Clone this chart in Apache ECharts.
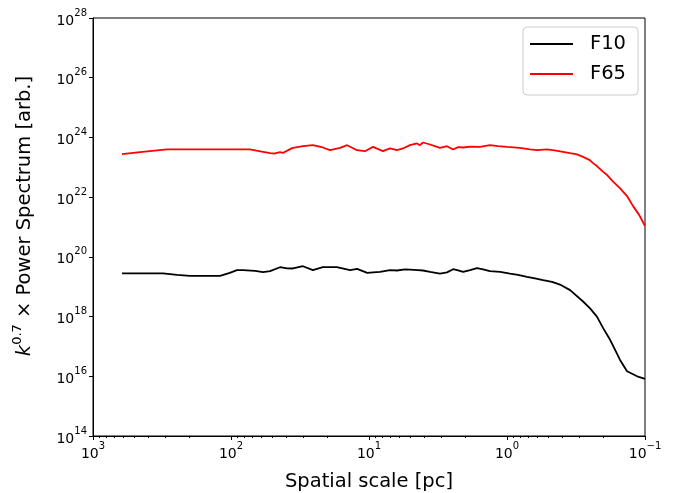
<!DOCTYPE html>
<html>
<head>
<meta charset="utf-8">
<script src="https://cdn.jsdelivr.net/npm/echarts@6/dist/echarts.min.js"></script>
<style>
html,body{margin:0;padding:0;background:#fff;}
#chart{width:676px;height:493px;}
</style>
</head>
<body>
<div id="chart"></div>
<script>
// Spatial scale [pc] and k^0.7 x Power Spectrum values
var xF65 = [616, 456, 291, 168, 102, 72.8, 58.6, 52.1, 48.0, 44.1, 42.0, 38.6, 35.6, 30.1, 25.5, 21.6, 19.2, 16.2, 14.4, 12.2, 10.7, 9.35, 7.93, 7.04, 6.27, 5.68, 5.05, 4.49, 4.27, 4.06, 3.61, 3.33, 3.06, 2.72, 2.46, 2.26, 2.08, 1.85, 1.57, 1.33, 1.16, 1.0, 0.805, 0.681, 0.607, 0.513, 0.441, 0.393, 0.349, 0.311, 0.281, 0.251, 0.238, 0.223, 0.201, 0.188, 0.171, 0.152, 0.135, 0.122, 0.110, 0.1];
var yF65 = [2.75e23, 3.2e23, 3.95e23, 4.0e23, 4.0e23, 3.95e23, 3.3e23, 2.97e23, 2.9e23, 3.2e23, 3.04e23, 3.74e23, 4.47e23, 5.09e23, 5.5e23, 4.6e23, 3.74e23, 4.47e23, 5.5e23, 3.74e23, 3.46e23, 4.82e23, 3.46e23, 4.27e23, 3.74e23, 4.27e23, 5.5e23, 6.27e23, 5.5e23, 6.76e23, 5.8e23, 5.09e23, 4.47e23, 5.09e23, 3.95e23, 4.71e23, 4.6e23, 4.9e23, 4.82e23, 5.5e23, 5.09e23, 4.82e23, 4.47e23, 4.0e23, 3.74e23, 4.0e23, 3.6e23, 3.3e23, 2.97e23, 2.69e23, 2.23e23, 1.73e23, 1.38e23, 1.1e23, 7.0e22, 5.5e22, 3.4e22, 2.0e22, 1.09e22, 5.0e21, 2.5e21, 1.08e21];

var xF10 = [616, 420, 311, 246, 198, 154, 120, 102, 90.6, 81.8, 67.0, 58.6, 52.1, 44.1, 39.3, 35.6, 30.1, 25.5, 21.6, 17.1, 13.7, 12.2, 11.2, 10.3, 9.35, 8.32, 7.04, 6.27, 5.48, 5.05, 4.42, 4.06, 3.61, 3.06, 2.72, 2.46, 2.26, 2.08, 1.85, 1.65, 1.49, 1.33, 1.12, 0.951, 0.832, 0.716, 0.627, 0.548, 0.472, 0.413, 0.349, 0.281, 0.251, 0.223, 0.201, 0.179, 0.165, 0.152, 0.135, 0.114, 0.1];
var yF10 = [2.8e19, 2.8e19, 2.8e19, 2.5e19, 2.3e19, 2.3e19, 2.3e19, 2.9e19, 3.6e19, 3.58e19, 3.39e19, 3.07e19, 3.31e19, 4.5e19, 4.1e19, 4.08e19, 4.86e19, 3.58e19, 4.5e19, 4.5e19, 3.58e19, 3.96e19, 3.39e19, 2.9e19, 3.02e19, 3.15e19, 3.6e19, 3.49e19, 3.8e19, 3.75e19, 3.6e19, 3.49e19, 3.15e19, 2.75e19, 3.02e19, 3.86e19, 3.52e19, 3.15e19, 3.6e19, 4.17e19, 3.8e19, 3.31e19, 3.15e19, 2.75e19, 2.5e19, 2.14e19, 1.9e19, 1.66e19, 1.46e19, 1.18e19, 7.7e18, 3.2e18, 1.92e18, 1.0e18, 4.1e17, 1.67e17, 7.8e16, 3.6e16, 1.48e16, 1.0e16, 8.2e15];

var seriesNames = ['F10', 'F65'];
var xMinorTicks = [2,3,4,5,6,7,8,9,20,30,40,50,60,70,80,90,200,300,400,500,600,700,800,900,0.2,0.3,0.4,0.5,0.6,0.7,0.8,0.9];

function zip(xs, ys) { return xs.map(function (x, i) { return [x, ys[i]]; }); }
var FONT = 'DejaVu Sans';
function powLabel(v) {
  var e = Math.round(Math.log10(v));
  var es = e < 0 ? '\u2212' + (-e) : String(e);
  return '{b|10}{s|' + es + '}';
}
var labelRich = {
  b: { fontSize: 14, fontFamily: FONT, color: '#000', lineHeight: 20, verticalAlign: 'bottom' },
  s: { fontSize: 10, fontFamily: FONT, color: '#000', lineHeight: 20, verticalAlign: 'top' }
};

var chart = echarts.init(document.getElementById('chart'), null, { renderer: 'canvas' });
chart.setOption({
  animation: false,
  backgroundColor: '#fff',
  textStyle: { fontFamily: FONT },
  grid: { left: 93, right: 31, top: 18, bottom: 57, show: true, borderColor: '#000', borderWidth: 1, backgroundColor: 'transparent', containLabel: false, outerBoundsMode: 'none' },
  legend: {
    data: seriesNames,
    orient: 'vertical',
    left: 523, top: 27,
    padding: [7, 12, 11, 7],
    itemGap: 10,
    icon: 'rect',
    itemWidth: 43, itemHeight: 2,
    backgroundColor: 'rgba(255,255,255,0.85)',
    borderColor: '#cccccc', borderWidth: 1, borderRadius: 4,
    textStyle: { fontSize: 19.5, lineHeight: 20, fontFamily: FONT, color: '#000', padding: [0, 0, 0, 12] }
  },
  xAxis: [{
    type: 'log', logBase: 10, min: 0.1, max: 1000, inverse: true,
    name: 'Spatial scale [pc]', nameLocation: 'middle', nameGap: 36,
    nameTextStyle: { fontSize: 19.5, fontFamily: FONT, color: '#000' },
    axisLine: { show: true, lineStyle: { color: '#000', width: 1 } },
    axisTick: { show: true, length: 4, lineStyle: { color: '#000' } },
    axisLabel: { formatter: powLabel, rich: labelRich, margin: 5 },
    splitLine: { show: false },
    minorTick: { show: false }
  }, {
    type: 'log', logBase: 10, min: 0.1, max: 1000, inverse: true,
    position: 'bottom',
    axisLine: { show: false },
    axisTick: { show: true, length: 2, customValues: xMinorTicks, lineStyle: { color: '#000' } },
    axisLabel: { show: false },
    splitLine: { show: false }
  }],
  yAxis: {
    type: 'log', logBase: 10, min: 1e14, max: 1e28, interval: 2,
    name: '{i|k}{s|0.7}{t| \u00d7 Power Spectrum [arb.]}',
    nameLocation: 'middle', nameGap: 58, nameRotate: 90,
    nameTextStyle: {
      padding: [0, 0, 0, 22],
      rich: {
        i: { fontSize: 19.5, fontStyle: 'italic', fontFamily: FONT, color: '#000', lineHeight: 24, verticalAlign: 'bottom' },
        s: { fontSize: 13, fontFamily: FONT, color: '#000', lineHeight: 24, verticalAlign: 'top' },
        t: { fontSize: 19.5, fontFamily: FONT, color: '#000', lineHeight: 24, verticalAlign: 'bottom' }
      }
    },
    axisLine: { show: true, lineStyle: { color: '#000', width: 1 } },
    axisTick: { show: true, length: 4, lineStyle: { color: '#000' } },
    axisLabel: { formatter: powLabel, rich: labelRich, margin: 6 },
    splitLine: { show: false }
  },
  series: [{
    name: seriesNames[0], type: 'line', xAxisIndex: 0,
    data: zip(xF10, yF10), symbol: 'none', smooth: false,
    lineStyle: { color: '#000', width: 1.8 }, itemStyle: { color: '#000' }
  }, {
    name: seriesNames[1], type: 'line', xAxisIndex: 0,
    data: zip(xF65, yF65), symbol: 'none', smooth: false,
    lineStyle: { color: '#ff0000', width: 1.8 }, itemStyle: { color: '#ff0000' }
  }]
});
</script>
</body>
</html>
